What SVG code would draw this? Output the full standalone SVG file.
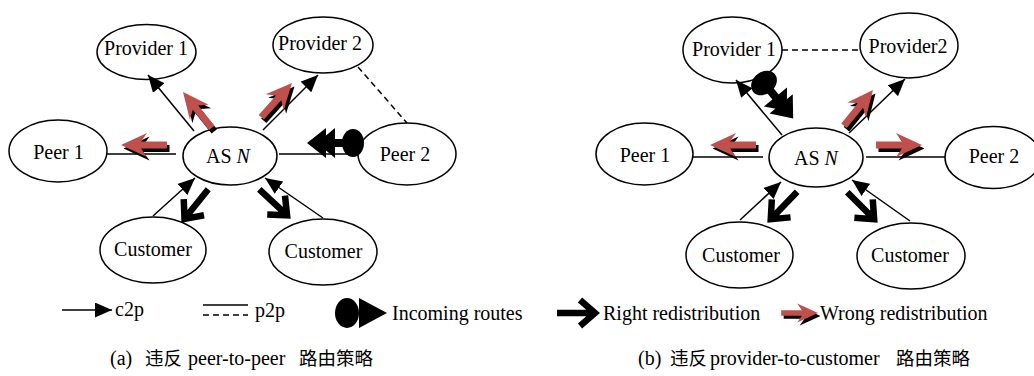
<svg xmlns="http://www.w3.org/2000/svg" width="1034" height="376" viewBox="0 0 1034 376">
<defs>
<style>
.node ellipse{fill:#fff;stroke:#000;stroke-width:1.5}
text{font-family:"Liberation Serif","Times New Roman",serif;font-size:20px;fill:#000}
.lbl{text-anchor:middle}
.cap{font-family:"Liberation Serif","Noto Sans CJK SC",serif;font-size:20px}
.cjk{font-family:"Noto Sans CJK SC",sans-serif;font-size:18.5px}
.c2p{stroke:#000;stroke-width:1.5;fill:none;marker-end:url(#tri)}
.p2p{stroke:#000;stroke-width:1.5;fill:none}
.dash{stroke-dasharray:6 4}
.red{fill:#c0504d}
.shadow{fill:#000}
.right{fill:none;stroke:#000;stroke-width:6.5;stroke-linejoin:miter;stroke-miterlimit:10}
.inc{fill:#000}
</style>
<marker id="tri" viewBox="0 0 17 15" refX="17" refY="7.5" markerWidth="17" markerHeight="15" markerUnits="userSpaceOnUse" orient="auto"><path d="M0,0 L17,7.5 L0,15 Z" fill="#000"/></marker>
<path id="wr" d="M0,0 L-26,-12 L-20,-3.5 L-46,-3.5 L-46,3.5 L-20,3.5 L-26,12 Z"/>
<path id="rr" d="M-42,0 H-6 M-19,-13 L-4,0 L-19,13"/>
<g id="inc"><ellipse cx="0" cy="0" rx="11" ry="14"/><rect x="6" y="-4" width="18" height="8"/><path d="M18,-15 L18,15 L36,0 Z M27,-15 L27,15 L46,0 Z"/></g>
</defs>
<rect width="1034" height="376" fill="#fff"/>

<!-- Diagram (a) nodes -->
<g id="a-provider1" class="node"><ellipse cx="146.5" cy="52" rx="49.5" ry="27.5"/><text class="lbl" x="146" y="55">Provider 1</text></g>
<g id="a-provider2" class="node"><ellipse cx="323" cy="45" rx="50" ry="28"/><text class="lbl" x="320" y="50">Provider 2</text></g>
<g id="a-peer1" class="node"><ellipse cx="58" cy="151" rx="49" ry="31"/><text class="lbl" x="58.5" y="159">Peer 1</text></g>
<g id="a-asn" class="node"><ellipse cx="230" cy="156" rx="47" ry="29"/><text class="lbl" x="228" y="163">AS <tspan font-style="italic">N</tspan></text></g>
<g id="a-peer2" class="node"><ellipse cx="407" cy="154" rx="49" ry="31"/><text class="lbl" x="405" y="161">Peer 2</text></g>
<g id="a-customer1" class="node"><ellipse cx="153" cy="250" rx="53" ry="33"/><text class="lbl" x="153" y="256">Customer</text></g>
<g id="a-customer2" class="node"><ellipse cx="323" cy="252" rx="54" ry="33"/><text class="lbl" x="323.5" y="258">Customer</text></g>

<!-- Diagram (b) nodes -->
<g id="b-provider1" class="node"><ellipse cx="732.5" cy="50" rx="49.5" ry="33"/><text class="lbl" x="734" y="56">Provider 1</text></g>
<g id="b-provider2" class="node"><ellipse cx="909" cy="45.5" rx="49" ry="32.5"/><text class="lbl" x="908" y="53">Provider2</text></g>
<g id="b-peer1" class="node"><ellipse cx="644.5" cy="154" rx="48.5" ry="31"/><text class="lbl" x="645" y="162">Peer 1</text></g>
<g id="b-asn" class="node"><ellipse cx="816" cy="157.5" rx="47" ry="29.5"/><text class="lbl" x="816" y="165">AS <tspan font-style="italic">N</tspan></text></g>
<g id="b-peer2" class="node"><ellipse cx="993" cy="157.5" rx="48" ry="31"/><text class="lbl" x="994" y="163">Peer 2</text></g>
<g id="b-customer1" class="node"><ellipse cx="739.5" cy="255" rx="53.5" ry="33"/><text class="lbl" x="741" y="262">Customer</text></g>
<g id="b-customer2" class="node"><ellipse cx="911" cy="256" rx="54" ry="33"/><text class="lbl" x="910" y="262">Customer</text></g>

<g id="connectors">
<!-- (a) -->
<line x1="194" y1="131" x2="148" y2="75" class="c2p"/>
<line x1="263" y1="130" x2="318" y2="75" class="c2p"/>
<line x1="153" y1="216" x2="195" y2="178" class="c2p"/>
<line x1="323" y1="218" x2="265" y2="178" class="c2p"/>
<line x1="107" y1="154" x2="176" y2="154" class="p2p"/>
<line x1="279" y1="154" x2="358" y2="154" class="p2p"/>
<line x1="358" y1="67" x2="407" y2="123" class="p2p dash"/>
<use href="#inc" class="inc" transform="translate(353,143) rotate(180)"/>
<g transform="translate(2.5,3.5)">
<use href="#wr" class="shadow" transform="translate(121,145) rotate(180)"/>
<use href="#wr" class="shadow" transform="translate(183,92) rotate(-128.7)"/>
<use href="#wr" class="shadow" transform="translate(292,83) rotate(-48.1)"/>
</g>
<use href="#wr" class="red" transform="translate(121,145) rotate(180)"/>
<use href="#wr" class="red" transform="translate(183,92) rotate(-128.7)"/>
<use href="#wr" class="red" transform="translate(292,83) rotate(-48.1)"/>
<use href="#rr" class="right" transform="translate(182,222) rotate(128.7)"/>
<use href="#rr" class="right" transform="translate(290,218) rotate(43)"/>
<!-- (b) -->
<line x1="782" y1="135" x2="736" y2="80" class="c2p"/>
<line x1="849" y1="133" x2="905" y2="79" class="c2p"/>
<line x1="740" y1="220" x2="781" y2="182" class="c2p"/>
<line x1="910" y1="221" x2="852" y2="180" class="c2p"/>
<line x1="693" y1="157" x2="763" y2="157" class="p2p"/>
<line x1="866" y1="157" x2="945" y2="157" class="p2p"/>
<line x1="782" y1="50" x2="860" y2="50" class="p2p dash"/>
<use href="#inc" class="inc" transform="translate(764,83) rotate(50.6)"/>
<g transform="translate(2.5,3.5)">
<use href="#wr" class="shadow" transform="translate(710,145) rotate(180)"/>
<use href="#wr" class="shadow" transform="translate(922,145)"/>
<use href="#wr" class="shadow" transform="translate(873,90) rotate(-50.9)"/>
</g>
<use href="#wr" class="red" transform="translate(710,145) rotate(180)"/>
<use href="#wr" class="red" transform="translate(922,145)"/>
<use href="#wr" class="red" transform="translate(873,90) rotate(-50.9)"/>
<use href="#rr" class="right" transform="translate(768,222) rotate(134)"/>
<use href="#rr" class="right" transform="translate(877,222) rotate(45)"/>
</g>

<g id="legend">
<line x1="62" y1="310" x2="112" y2="310" class="c2p"/>
<text x="115" y="316">c2p</text>
<line x1="203" y1="305" x2="248" y2="305" class="p2p"/>
<line x1="203" y1="315" x2="248" y2="315" class="p2p dash"/>
<text x="255" y="317">p2p</text>
<ellipse cx="347" cy="313" rx="12" ry="15" class="inc"/>
<path d="M359,298 L387,313 L359,328 Z" class="inc"/>
<text x="392" y="320">Incoming routes</text>
<use href="#rr" class="right" transform="translate(599,313)"/>
<text x="603" y="320">Right redistribution</text>
<use href="#wr" class="shadow" transform="translate(820.5,316) scale(0.8)"/>
<use href="#wr" class="red" transform="translate(818,313) scale(0.8)"/>
<text x="820" y="320">Wrong redistribution</text>
</g>

<g id="captions">
<text class="cap" x="110" y="365">(a)<tspan class="cjk" x="145">违反</tspan><tspan x="188">peer-to-peer</tspan><tspan class="cjk" x="299">路由策略</tspan></text>
<text class="cap" x="638" y="365">(b)<tspan class="cjk" x="670">违反</tspan><tspan x="710">provider-to-customer</tspan><tspan class="cjk" x="896">路由策略</tspan></text>
</g>
</svg>
